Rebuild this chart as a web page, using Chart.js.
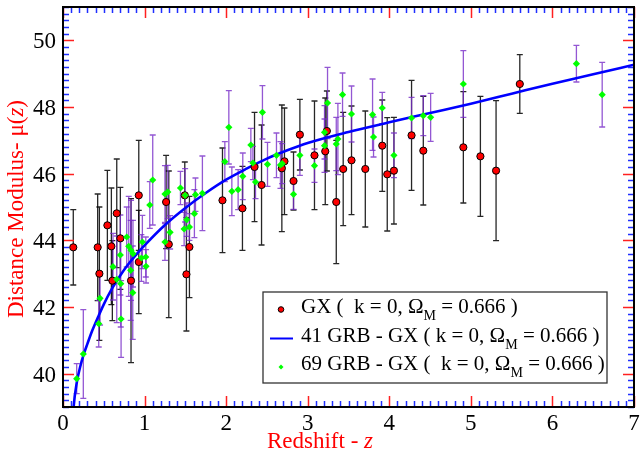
<!DOCTYPE html>
<html>
<head>
<meta charset="utf-8">
<script src="https://cdn.jsdelivr.net/npm/chart.js@4.4.1/dist/chart.umd.min.js"></script>
<style>
  html, body { margin: 0; padding: 0; background: #fff; }
  canvas { display: block; }
</style>
</head>
<body>
<canvas id="muChart" width="640" height="457"></canvas>
<script>
// GX points (red circles, black error bars)
const gxZ   = [0.126, 0.425, 0.446, 0.544, 0.593, 0.605, 0.659, 0.703, 0.834, 0.929, 0.929, 1.264, 1.297, 1.513, 1.550, 1.493, 1.955, 2.200, 2.348, 2.434, 2.715, 2.683, 2.826, 2.904, 3.083, 3.215, 3.235, 3.350, 3.435, 3.537, 3.706, 3.914, 3.975, 4.057, 4.273, 4.417, 4.908, 5.117, 5.309, 5.600];
const gxMu  = [43.79, 43.79, 43.00, 44.45, 43.82, 42.79, 44.81, 44.06, 42.79, 45.35, 43.35, 45.15, 43.88, 42.98, 43.80, 45.35, 45.20, 44.96, 46.20, 45.66, 46.37, 46.16, 45.78, 47.17, 46.55, 46.67, 47.28, 45.15, 46.14, 46.40, 46.14, 46.84, 45.98, 46.09, 47.15, 46.69, 46.79, 46.52, 46.09, 48.69];
const gxErr = [1.13, 1.6, 2.0, 1.65, 1.75, 1.2, 1.63, 1.53, 2.46, 1.65, 1.55, 1.4, 2.2, 1.7, 1.52, 1.0, 1.57, 1.26, 1.64, 1.8, 1.6, 1.9, 0.87, 1.06, 1.63, 1.6, 1.2, 1.85, 1.7, 1.63, 1.74, 1.37, 1.7, 1.6, 1.65, 1.63, 1.67, 1.8, 2.1, 0.88];

// 69 GRB - GX points (green diamonds, purple error bars)
const grbZ   = [0.168, 0.249, 0.438, 0.454, 0.613, 0.659, 0.703, 0.708, 0.712, 0.781, 0.806, 0.834, 0.830, 0.855, 0.858, 0.973, 0.961, 1.015, 1.018, 1.100, 1.064, 1.250, 1.285, 1.250, 1.313, 1.440, 1.497, 1.517, 1.485, 1.550, 1.611, 1.624, 1.709, 1.984, 2.033, 2.070, 2.147, 2.204, 2.303, 2.328, 2.360, 2.445, 2.507, 2.617, 2.666, 2.687, 2.826, 2.904, 3.083, 3.206, 3.206, 3.243, 3.370, 3.350, 3.427, 3.537, 3.795, 3.807, 3.914, 4.057, 4.273, 4.417, 4.507, 4.908, 6.294, 6.610];
const grbMu  = [39.85, 40.59, 41.50, 42.26, 43.21, 42.83, 43.56, 42.70, 41.64, 44.10, 43.82, 43.70, 43.10, 42.43, 43.60, 43.95, 43.47, 43.50, 43.22, 45.81, 45.06, 45.39, 45.45, 43.95, 44.24, 45.57, 45.35, 44.62, 44.34, 44.40, 44.80, 45.37, 45.41, 46.36, 47.39, 45.47, 45.52, 45.92, 46.86, 46.32, 45.75, 47.84, 46.28, 46.55, 46.26, 46.30, 45.38, 46.55, 46.24, 47.24, 46.84, 48.12, 47.04, 46.89, 48.37, 47.79, 47.77, 47.10, 47.97, 46.55, 47.67, 47.74, 47.69, 48.69, 49.30, 48.37];
const grbErr = [0.45, 1.33, 0.7, 0.8, 1.0, 1.3, 1.2, 1.3, 1.15, 0.9, 1.5, 1.5, 1.5, 1.4, 1.0, 0.8, 0.7, 0.6, 0.5, 1.35, 0.7, 0.85, 0.8, 0.55, 0.5, 0.5, 0.8, 0.5, 0.5, 0.4, 0.72, 0.5, 1.12, 0.6, 1.1, 0.73, 0.6, 0.7, 0.5, 0.5, 0.5, 0.8, 0.66, 0.67, 0.7, 0.6, 0.45, 0.6, 0.5, 0.8, 0.8, 1.07, 1.07, 0.8, 0.65, 0.84, 1.07, 0.6, 0.47, 0.67, 0.62, 0.6, 0.72, 1.0, 0.55, 0.97];

// 41 GRB - GX fitted curve
const curveZ  = [0.12, 0.13, 0.17, 0.21, 0.25, 0.30, 0.36, 0.43, 0.50, 0.60, 0.70, 0.80, 0.90, 1.00, 1.25, 1.50, 1.75, 2.00, 2.25, 2.50, 2.75, 3.00, 3.50, 4.00, 4.50, 5.00, 5.50, 6.00, 6.50, 7.00];
const curveMu = [38.6, 39.0, 39.75, 40.2, 40.55, 40.9, 41.3, 41.7, 42.08, 42.55, 42.94, 43.28, 43.58, 43.85, 44.46, 44.97, 45.42, 45.82, 46.15, 46.45, 46.7, 46.92, 47.25, 47.54, 47.82, 48.1, 48.4, 48.7, 48.98, 49.27];

const xTicks = [0, 1, 2, 3, 4, 5, 6, 7];
const yTicks = [40, 42, 44, 46, 48, 50];

const legendLabels = [
  ['GX (  k = 0, Ω', 'M', ' = 0.666 )'],
  ['41 GRB - GX ( k = 0, Ω', 'M', ' = 0.666 )'],
  ['69 GRB - GX (  k = 0, Ω', 'M', ' = 0.666 )']
];

const SERIF = '"Liberation Serif", "Times New Roman", serif';

function toPoints(xs, ys) {
  return xs.map((x, i) => ({ x: x, y: ys[i] }));
}

function drawErrs(ctx, xs, ys, zArr, muArr, errArr, color) {
  ctx.strokeStyle = color;
  ctx.lineWidth = 1.3;
  zArr.forEach((z, i) => {
    const px = xs.getPixelForValue(z);
    const top = ys.getPixelForValue(muArr[i] + errArr[i]);
    const bot = ys.getPixelForValue(muArr[i] - errArr[i]);
    ctx.beginPath();
    ctx.moveTo(px, top); ctx.lineTo(px, bot);
    ctx.moveTo(px - 3, top); ctx.lineTo(px + 3, top);
    ctx.moveTo(px - 3, bot); ctx.lineTo(px + 3, bot);
    ctx.stroke();
  });
}

// text pieces drawn one after another (for subscripts / italics)
function drawPieces(ctx, x, y, pieces) {
  pieces.forEach(p => {
    ctx.font = p.font;
    ctx.fillText(p.t, x, y + (p.dy || 0));
    x += ctx.measureText(p.t).width;
  });
}

function piecesWidth(ctx, pieces) {
  let w = 0;
  pieces.forEach(p => { ctx.font = p.font; w += ctx.measureText(p.t).width; });
  return w;
}

const errorBars = {
  id: 'errorBars',
  beforeDatasetsDraw(chart) {
    const ctx = chart.ctx, a = chart.chartArea;
    ctx.save();
    ctx.beginPath();
    ctx.rect(a.left, a.top, a.right - a.left, a.bottom - a.top);
    ctx.clip();
    drawErrs(ctx, chart.scales.x, chart.scales.y, gxZ, gxMu, gxErr, 'rgba(0,0,0,0.85)');
    drawErrs(ctx, chart.scales.x, chart.scales.y, grbZ, grbMu, grbErr, 'rgba(120,45,200,0.8)');
    ctx.restore();
  }
};

const frameStuff = {
  id: 'frameStuff',
  afterDraw(chart) {
    const ctx = chart.ctx, a = chart.chartArea;
    const xs = chart.scales.x, ys = chart.scales.y;
    ctx.save();

    // inward ticks on all four sides, red major / blue minor
    ctx.lineWidth = 1.5;
    for (let i = 0; i <= 70; i++) {
      const px = Math.round(xs.getPixelForValue(i / 10)) + 0.5;
      const major = i % 10 === 0;
      const len = major ? 11 : 6;
      ctx.strokeStyle = major ? '#ff2020' : '#2030ff';
      ctx.beginPath();
      ctx.moveTo(px, a.bottom); ctx.lineTo(px, a.bottom - len);
      ctx.moveTo(px, a.top); ctx.lineTo(px, a.top + len);
      ctx.stroke();
    }
    for (let i = 0; i <= 60; i++) {
      const v = 39 + i * 0.2;
      const r = Math.round(v);
      const major = Math.abs(v - r) < 1e-6 && r % 2 === 0;
      const py = Math.round(ys.getPixelForValue(v)) + 0.5;
      const len = major ? 11 : 6;
      ctx.strokeStyle = major ? '#ff2020' : '#2030ff';
      ctx.beginPath();
      ctx.moveTo(a.left, py); ctx.lineTo(a.left + len, py);
      ctx.moveTo(a.right, py); ctx.lineTo(a.right - len, py);
      ctx.stroke();
    }

    // frame
    ctx.strokeStyle = '#000';
    ctx.lineWidth = 2;
    ctx.strokeRect(a.left, a.top, a.right - a.left, a.bottom - a.top);

    // tick labels (serif, placed from the scales)
    ctx.fillStyle = '#000';
    ctx.font = '23px ' + SERIF;
    ctx.textBaseline = 'alphabetic';
    ctx.textAlign = 'center';
    xTicks.forEach(v => ctx.fillText(String(v), xs.getPixelForValue(v), 430));
    ctx.textAlign = 'right';
    yTicks.forEach(v => ctx.fillText(String(v), 56, ys.getPixelForValue(v) + 8));

    // axis titles
    ctx.fillStyle = '#ff0000';
    ctx.textAlign = 'left';
    const norm = '23px ' + SERIF, ital = 'italic 23px ' + SERIF;
    const xt = [{ t: 'Redshift - ', font: norm }, { t: 'z', font: ital }];
    drawPieces(ctx, 320 - piecesWidth(ctx, xt) / 2, 448, xt);

    const yt = [{ t: 'Distance Modulus- μ(', font: norm }, { t: 'z', font: ital }, { t: ')', font: norm }];
    ctx.save();
    ctx.translate(23, 209);
    ctx.rotate(-Math.PI / 2);
    drawPieces(ctx, -piecesWidth(ctx, yt) / 2, 0, yt);
    ctx.restore();

    // legend
    const bx = 263, by = 292, bw = 344, bh = 91;
    ctx.fillStyle = '#fff';
    ctx.fillRect(bx, by, bw, bh);
    ctx.strokeStyle = '#333';
    ctx.lineWidth = 1.3;
    ctx.strokeRect(bx, by, bw, bh);

    const baselines = [313, 341.5, 370];
    const main = '21px ' + SERIF, sub = '14px ' + SERIF;
    ctx.fillStyle = '#000';
    legendLabels.forEach((lab, i) => {
      drawPieces(ctx, 301, baselines[i], [
        { t: lab[0], font: main },
        { t: lab[1], font: sub, dy: 7 },
        { t: lab[2], font: main }
      ]);
    });

    // legend symbols
    ctx.fillStyle = '#ff0000';
    ctx.strokeStyle = '#000';
    ctx.lineWidth = 1;
    ctx.beginPath(); ctx.arc(281, 309.5, 2.8, 0, Math.PI * 2); ctx.fill(); ctx.stroke();

    ctx.strokeStyle = '#0000ff';
    ctx.lineWidth = 2;
    ctx.beginPath(); ctx.moveTo(270, 338.5); ctx.lineTo(293, 338.5); ctx.stroke();

    ctx.fillStyle = '#00ff00';
    ctx.beginPath();
    ctx.moveTo(281, 364.5); ctx.lineTo(283.5, 367); ctx.lineTo(281, 369.5); ctx.lineTo(278.5, 367);
    ctx.closePath(); ctx.fill();

    ctx.restore();
  }
};

new Chart(document.getElementById('muChart'), {
  type: 'scatter',
  data: {
    datasets: [{
      type: 'line',
      label: '41 GRB - GX',
      data: toPoints(curveZ, curveMu),
      borderColor: '#0000ff',
      borderWidth: 2.6,
      pointRadius: 0,
      fill: false,
      cubicInterpolationMode: 'monotone',
      order: 3
    }, {
      label: 'GX',
      data: toPoints(gxZ, gxMu),
      pointStyle: 'circle',
      pointRadius: 3.6,
      backgroundColor: '#ff0000',
      borderColor: '#000',
      borderWidth: 1,
      order: 2
    }, {
      label: '69 GRB - GX',
      data: toPoints(grbZ, grbMu),
      pointStyle: 'rectRot',
      pointRadius: 3.6,
      backgroundColor: '#00ff00',
      borderColor: '#00ff00',
      borderWidth: 0,
      order: 1
    }]
  },
  options: {
    responsive: false,
    animation: false,
    layout: { padding: { left: 0, right: 6, top: 7, bottom: 0 } },
    plugins: {
      legend: { display: false },
      tooltip: { enabled: false }
    },
    scales: {
      x: {
        type: 'linear',
        min: 0,
        max: 7,
        afterBuildTicks: s => { s.ticks = xTicks.map(v => ({ value: v })); },
        afterFit: s => { s.height = 50; s.paddingLeft = 0; s.paddingRight = 0; },
        grid: { display: false, drawTicks: false },
        border: { display: false },
        ticks: { display: false }
      },
      y: {
        type: 'linear',
        min: 39,
        max: 51,
        afterBuildTicks: s => { s.ticks = yTicks.map(v => ({ value: v })); },
        afterFit: s => { s.width = 63; s.paddingTop = 0; s.paddingBottom = 0; },
        grid: { display: false, drawTicks: false },
        border: { display: false },
        ticks: { display: false }
      }
    }
  },
  plugins: [errorBars, frameStuff]
});
</script>
</body>
</html>
